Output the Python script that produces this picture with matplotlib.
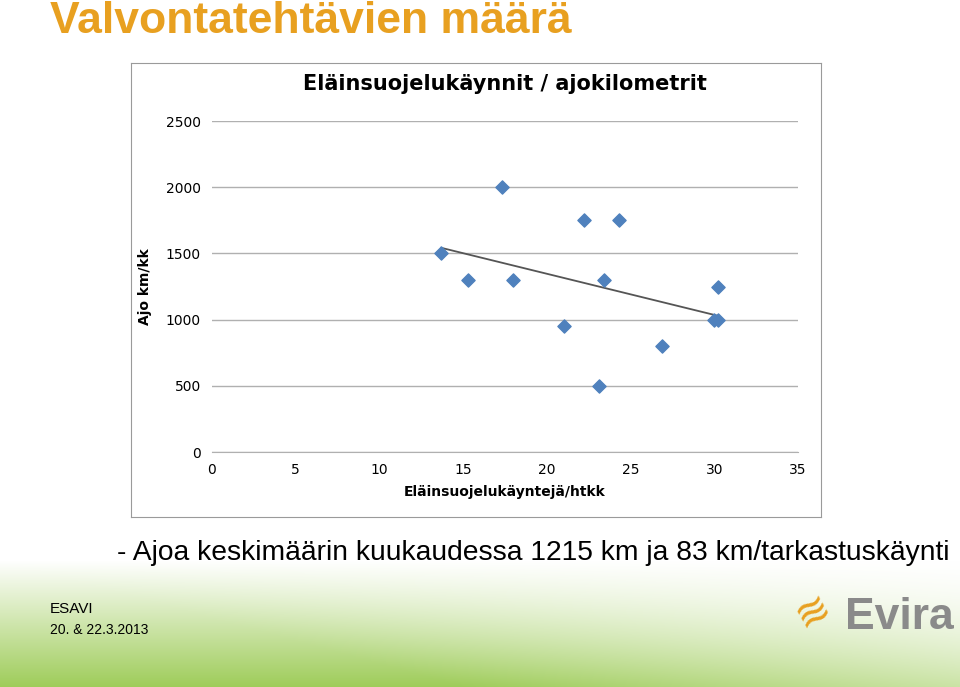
import numpy as np
import matplotlib
matplotlib.use("Agg")
import matplotlib.pyplot as plt

x_vals = [13.7, 15.3, 17.3, 18.0, 21.0, 22.2, 23.1, 23.4, 24.3, 26.9, 30.0, 30.2, 30.2]
y_vals = [1500, 1300, 2000, 1300, 950, 1750, 500, 1300, 1750, 800, 1000, 1000, 1250]
x_ticks = [0, 5, 10, 15, 20, 25, 30, 35]
y_ticks = [0, 500, 1000, 1500, 2000, 2500]

fig = plt.figure(figsize=(9.6, 6.87), dpi=100)
bg = fig.add_axes([0, 0, 1, 1])
bg.set_axis_off()
H, W = 687, 960
yy, xx = np.mgrid[0:H, 0:W]
t = np.clip((yy - 560) / 127.0, 0, 1) * np.clip(1 - (xx - 0) / 1100.0 + (yy - 560) / 300.0, 0, 1)
t = np.clip(t, 0, 1)
green = np.array([0.62, 0.80, 0.35])
img = np.ones((H, W, 3)) * (1 - t[..., None]) + green * t[..., None]
bg.imshow(img, extent=[0, 1, 0, 1], aspect='auto')
bg.set_xlim(0, 1); bg.set_ylim(0, 1)

fig.text(0.052, 0.952, "Valvontatehtävien määrä", fontsize=32, fontweight='bold',
         color='#E8A020', family='Liberation Sans', va='baseline')

frame = fig.add_axes([0.1365, 0.2475, 0.719, 0.661])
frame.set_xticks([]); frame.set_yticks([])
frame.set_facecolor('white')
for s in frame.spines.values():
    s.set_color('#9a9a9a')

ax = fig.add_axes([0.2208, 0.342, 0.6104, 0.4818])
ax.set_xlim(0, 35); ax.set_ylim(0, 2500)
ax.set_xticks(x_ticks); ax.set_yticks(y_ticks)
ax.grid(axis='y', color='#b0b0b0', lw=1)
ax.set_axisbelow(True)
for k in ['top', 'right', 'left']:
    ax.spines[k].set_visible(False)
ax.spines['bottom'].set_color('#b0b0b0')
ax.tick_params(length=0, labelsize=10, pad=8)
ax.scatter(x_vals, y_vals, marker='D', s=45, color='#4F81BD', zorder=3)
p = np.polyfit(x_vals, y_vals, 1)
xs = np.array([min(x_vals), max(x_vals)])
ax.plot(xs, np.polyval(p, xs), color='#555555', lw=1.3, zorder=2)
ax.set_title("Eläinsuojelukäynnit / ajokilometrit", fontsize=15, fontweight='bold', pad=22)
ax.set_xlabel("Eläinsuojelukäyntejä/htkk", fontsize=10, fontweight='bold', labelpad=6)
ax.set_ylabel("Ajo km/kk", fontsize=10, fontweight='bold', labelpad=10)

fig.text(0.122, 0.185, "- Ajoa keskimäärin kuukaudessa 1215 km ja 83 km/tarkastuskäynti",
         fontsize=20.3, family='Liberation Sans', va='baseline')
fig.text(0.052, 0.108, "ESAVI", fontsize=11, family='Liberation Sans')
fig.text(0.052, 0.077, "20. & 22.3.2013", fontsize=10, family='Liberation Sans')
fig.text(0.88, 0.085, "Evira", fontsize=32, fontweight='bold', color='#8a8a8a', family='Liberation Sans')
fig.text(0.82, 0.085, "≋", fontsize=30, color='#E8A020', rotation=30)

fig.savefig("out.png", dpi=100)
